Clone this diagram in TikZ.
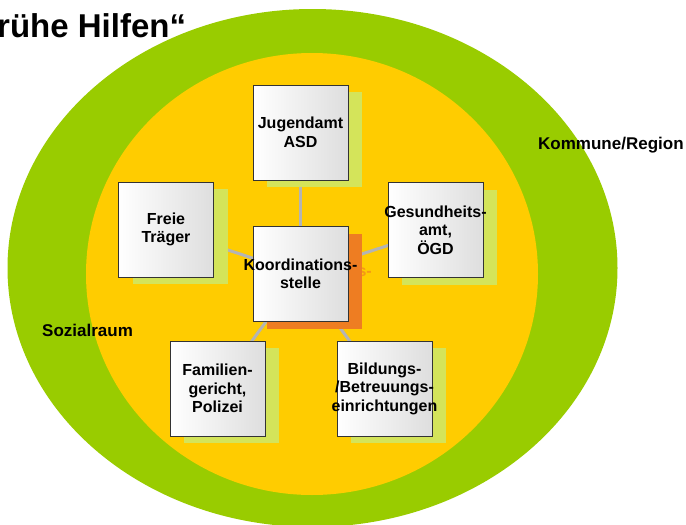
\documentclass[tikz,border=0pt]{standalone}
\usepackage{fontspec}
\setmainfont{Liberation Sans}
\usetikzlibrary{positioning,shadows,backgrounds}
\definecolor{outergreen}{HTML}{99CC00}
\definecolor{inneryellow}{HTML}{FFCC00}
\definecolor{shadegreen}{HTML}{D4E45A}
\definecolor{shadeorange}{HTML}{EE7D22}
\definecolor{linkgray}{HTML}{B4B4B4}
\begin{document}
\begin{tikzpicture}[x=1pt,y=-1pt,
    box/.style={draw=black!80, line width=0.9pt, minimum size=95pt, inner sep=0pt,
        left color=white, right color=black!13},
    greenshadow/.style={general shadow={shadow xshift=14pt, shadow yshift=-7pt, fill=shadegreen}},
    orangeshadow/.style={general shadow={shadow xshift=14pt, shadow yshift=-7pt, fill=shadeorange}},
    boxtext/.style={font=\fontsize{16}{18.5}\selectfont\bfseries, align=center, inner sep=0pt},
    lbl/.style={font=\fontsize{17}{19}\selectfont\bfseries, inner sep=0pt, anchor=base west},
    link/.style={draw=linkgray, line width=3pt}]
    \useasboundingbox (0,0) rectangle (686,525);

    % Kommune/Region und Sozialraum
    \begin{scope}[on background layer]
        \fill[outergreen] (312.5,268) ellipse [x radius=305pt, y radius=259pt];
        \fill[inneryellow] (312,274) ellipse [x radius=226pt, y radius=221pt];
    \end{scope}

    \node[anchor=base west, inner sep=0pt, font=\fontsize{33}{36}\selectfont\bfseries] (title) at (-3,37) {rühe Hilfen“};
    \node[lbl] (region) at (538,149) {Kommune/Region};
    \node[lbl] (sozial) at (42,336) {Sozialraum};

    % Akteure
    \node[box, orangeshadow, label={[boxtext]center:Koordinations-\\stelle}] (koord) at (300.5,274) {};
    \node[box, greenshadow, label={[boxtext]center:Jugendamt\\ASD}] (jugend) at (300.5,132.5) {};
    \node[box, greenshadow, label={[boxtext]center:Freie\\Träger}] (traeger) at (166,229.5) {};
    \node[box, greenshadow, label={[boxtext]center:Gesundheits-\\amt,\\ÖGD}] (gesund) at (435.5,230) {};
    \node[box, greenshadow, label={[boxtext]center:Familien-\\gericht,\\Polizei}] (familie) at (217.5,388.5) {};
    \node[box, greenshadow, label={[boxtext]center:Bildungs-\\/Betreuungs-\\einrichtungen}] (bildung) at (384.5,388.5) {};

    % Verbindungen, Rest vom Schattentext
    \begin{scope}[on background layer]
        \foreach \n in {jugend,traeger,gesund,familie,bildung}
            \draw[link] (koord.center) -- (\n.center);
        \node[boxtext, anchor=east, text=shadeorange!65!inneryellow] (koordghost) at (372,272) {s-};
    \end{scope}
\end{tikzpicture}
\end{document}
